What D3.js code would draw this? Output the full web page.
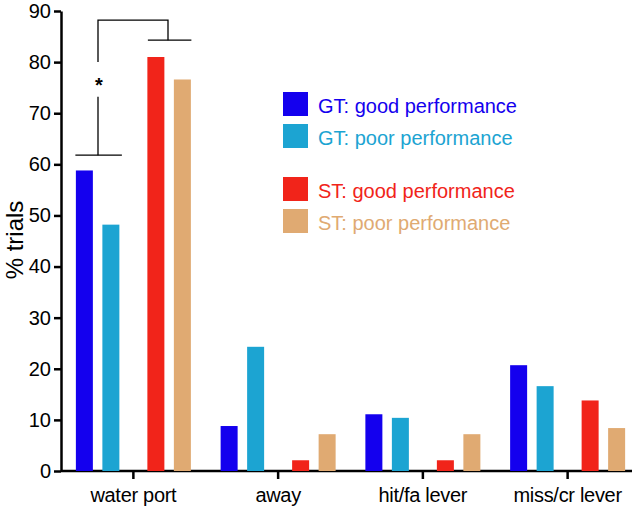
<!DOCTYPE html>
<html><head><meta charset="utf-8">
<script src="https://cdn.jsdelivr.net/npm/d3@7/dist/d3.min.js"></script>
<style>body{margin:0;background:#fff}svg{display:block}text{font-family:"Liberation Sans",Arial,Helvetica,sans-serif}</style>
</head><body><svg id="c" width="640" height="512"></svg>
<script>
const categories = ["water port", "away", "hit/fa lever", "miss/cr lever"];
const series = ["GT: good performance", "GT: poor performance", "ST: good performance", "ST: poor performance"];
const colors = ["#1400ee", "#1ca4d2", "#f1241a", "#e0aa72"];
const gtGood = [58.8, 8.8, 11.1, 20.7];
const gtPoor = [48.2, 24.3, 10.4, 16.6];
const stGood = [81.0, 2.1, 2.1, 13.8];
const stPoor = [76.6, 7.2, 7.2, 8.4];
const yTicks = [0, 10, 20, 30, 40, 50, 60, 70, 80, 90];
const values = [gtGood, gtPoor, stGood, stPoor];

const svg = d3.select("#c");
const x = d3.scaleBand().domain(categories).range([61, 640]).padding(0);
const y = d3.scaleLinear().domain([0, 90]).range([471, 11]);
const offset = d3.scaleOrdinal().domain(series).range([-49, -22.5, 22.5, 49]);
const barW = 17;

// y axis
const yAxis = d3.axisLeft(y).tickValues(yTicks).tickSize(7).tickPadding(3).tickSizeOuter(0);
const gy = svg.append("g").attr("transform", "translate(61,0)").call(yAxis);
gy.select(".domain").attr("stroke", "#000").attr("stroke-width", 2.5);
gy.selectAll(".tick line").attr("stroke", "#000").attr("stroke-width", 2.5);
gy.selectAll(".tick text").attr("font-size", 20).attr("fill", "#000")
  .attr("font-family", "Liberation Sans, Arial, sans-serif");

// x axis
const xAxis = d3.axisBottom(x).tickSize(8).tickPadding(9).tickSizeOuter(0);
const gx = svg.append("g").attr("transform", "translate(0,471)").call(xAxis);
gx.select(".domain").attr("d", "M61,0H632").attr("stroke", "#000").attr("stroke-width", 2.5);
gx.selectAll(".tick line").attr("stroke", "#000").attr("stroke-width", 2.5);
gx.selectAll(".tick text").attr("font-size", 20).attr("fill", "#000").attr("letter-spacing", -0.3)
  .attr("font-family", "Liberation Sans, Arial, sans-serif");

// y label
svg.append("text").attr("transform", "translate(23,240) rotate(-90)")
  .attr("text-anchor", "middle").attr("font-size", 24).text("% trials");

// bars
series.forEach((s, si) => {
  svg.append("g").selectAll("rect").data(categories).join("rect")
    .attr("x", (c) => x(c) + x.bandwidth() / 2 + offset(s) - barW / 2)
    .attr("width", barW)
    .attr("y", (c, i) => y(values[si][i]))
    .attr("height", (c, i) => y(0) - y(values[si][i]))
    .attr("fill", colors[si]);
});

// legend
const legY = [92, 124, 177, 209];
series.forEach((s, i) => {
  svg.append("rect").attr("x", 283).attr("y", legY[i]).attr("width", 25).attr("height", 24).attr("fill", colors[i]);
  svg.append("text").attr("x", 318).attr("y", legY[i] + 21).attr("font-size", 20).attr("fill", colors[i]).text(s);
});

// significance bracket
const cx = (c, s) => x(c) + x.bandwidth() / 2 + offset(s);
const br = svg.append("g").attr("stroke", "#000").attr("stroke-width", 1.3).attr("fill", "none");
const lx = 98, rx = 168;
br.append("path").attr("d", `M${cx("water port", series[0]) - 9},${y(61.8)}H${cx("water port", series[1]) + 11}`);
br.append("path").attr("d", `M${lx},${y(61.8)}V${y(73.2)}`);
br.append("path").attr("d", `M${lx},${y(80.0)}V${y(88.2)}H${rx}V${y(84.3)}`);
br.append("path").attr("d", `M${cx("water port", series[2]) - 8},${y(84.3)}H${cx("water port", series[3]) + 9}`);
svg.append("text").attr("x", lx + 1).attr("y", y(75.9) + 9).attr("text-anchor", "middle")
  .attr("font-size", 20).attr("font-weight", "bold").text("*");
</script></body></html>
